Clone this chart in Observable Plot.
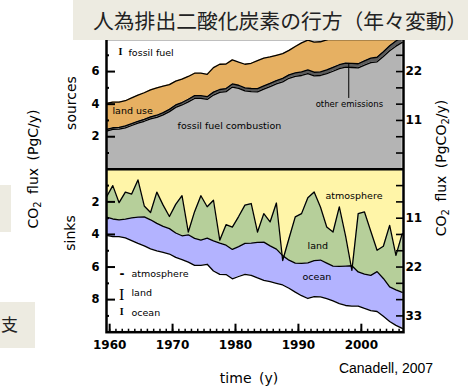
<!DOCTYPE html>
<html>
<head>
<meta charset="utf-8">
<script src="https://cdn.jsdelivr.net/npm/d3@7"></script>
<script src="https://cdn.jsdelivr.net/npm/@observablehq/plot@0.6"></script>
<style>
  body { margin: 0; background: #fff; }
  #wrap { position: relative; width: 468px; height: 387px; overflow: hidden; }
  #wrap svg { position: absolute; left: 0; top: 0; }
  .banner { position: absolute; left: 73px; top: 0; width: 395px; height: 40px; background: #edebe1; }
  .banner .title { position: absolute; left: 20px; top: 8px; font: 20.8px/24px "Noto Sans CJK JP", sans-serif; color: #222; white-space: nowrap; }
  .side { position: absolute; background: #edebe1; }
  .side span { position: absolute; font: 17px/20px "Noto Sans CJK JP", sans-serif; color: #222; }
</style>
</head>
<body>
<div id="wrap">
  <div class="side" style="left:0;top:185px;width:11px;height:47px"></div>
  <div class="side" style="left:0;top:302px;width:35px;height:46px"><span style="left:1px;top:12px">支</span></div>
</div>
<script>
// Annual global CO2 budget, PgC per year (sources above, sinks below)
const years = [1959,1960,1961,1962,1963,1964,1965,1966,1967,1968,1969,1970,1971,1972,1973,1974,1975,1976,1977,1978,1979,1980,1981,1982,1983,1984,1985,1986,1987,1988,1989,1990,1991,1992,1993,1994,1995,1996,1997,1998,1999,2000,2001,2002,2003,2004,2005,2006];

// sources
const fossilCombustion = [2.35,2.45,2.47,2.55,2.69,2.83,2.95,3.09,3.19,3.34,3.54,3.80,3.95,4.14,4.35,4.35,4.29,4.56,4.72,4.77,5.05,4.97,4.81,4.77,4.76,4.92,5.08,5.25,5.37,5.59,5.71,5.76,5.88,5.74,5.76,5.87,6.02,6.18,6.27,6.25,6.23,6.40,6.55,6.60,6.93,7.28,7.56,7.79];
const otherEmissions = [0.10,0.10,0.10,0.11,0.11,0.12,0.12,0.13,0.13,0.14,0.14,0.15,0.15,0.16,0.17,0.17,0.17,0.18,0.18,0.19,0.19,0.19,0.19,0.19,0.19,0.20,0.20,0.20,0.21,0.21,0.21,0.22,0.22,0.22,0.22,0.23,0.24,0.24,0.25,0.25,0.25,0.26,0.27,0.28,0.29,0.30,0.32,0.33];
const landUse = [1.60,1.58,1.56,1.55,1.58,1.60,1.63,1.66,1.68,1.62,1.52,1.46,1.44,1.40,1.38,1.38,1.37,1.50,1.55,1.50,1.48,1.42,1.45,1.55,1.72,1.70,1.62,1.55,1.52,1.50,1.62,1.78,1.83,1.85,1.85,1.84,1.82,1.82,1.84,1.90,1.92,1.88,1.85,1.85,1.80,1.76,1.70,1.65];

// sinks (the land sink is what remains after atmosphere and ocean)
const atmosphere = [1.70,1.00,2.05,1.40,1.52,0.65,2.25,2.65,1.40,2.20,2.90,2.15,1.62,3.85,2.60,1.62,2.30,1.90,4.35,3.40,3.55,2.90,2.20,2.10,3.85,2.72,3.23,2.07,5.60,4.25,2.92,2.72,1.74,1.39,2.31,3.54,3.85,2.31,4.10,6.20,2.72,2.62,3.80,4.97,4.72,3.44,5.28,3.95];
const ocean = [1.12,1.08,1.02,1.15,1.40,1.62,1.78,1.78,1.68,1.60,1.56,1.50,1.46,1.68,1.66,1.55,1.60,1.85,1.92,1.80,1.80,1.83,1.90,1.98,2.18,2.35,2.20,2.10,1.80,1.72,1.78,1.98,2.18,2.20,2.26,2.18,2.14,2.28,2.42,2.48,2.10,2.10,2.16,2.45,2.32,2.12,2.18,2.22];

// axis ticks
const decadeTicks = [1960,1970,1980,1990,2000];
const leftMajor = [-8,-6,-4,-2,2,4,6];
const leftMinor = [-9,-7,-5,-3,-1,1,3,5,7];
const rightTicks = [-9,-8,-7,-6,-5,-4,-3,-2,-1,1,2,3,4,5,6,7];
const rightLabels = [-9,-6,-3,3,6];
const PgC_TO_PgCO2 = 11 / 3;

const rows = years.map((year, i) => {
  const emitted = fossilCombustion[i] + otherEmissions[i];
  const total = emitted + landUse[i];
  return {
    year,
    fossil: fossilCombustion[i],
    emitted,
    total,
    atm: -atmosphere[i],
    landEdge: -(total - ocean[i]),
    sinkTotal: -total
  };
});
const mid = d => d.year + 0.5;

const sans = "DejaVu Sans, sans-serif";
const line = {x: mid, stroke: "#000", strokeWidth: 1.3, clip: true};

const chart = Plot.plot({
  width: 468,
  height: 387,
  marginLeft: 106,
  marginRight: 65,
  marginTop: 38.5,
  marginBottom: 55.3,
  x: {domain: [1959.5, 2006.7]},
  y: {domain: [-10, 8], label: null},
  style: {fontFamily: sans, color: "#000", background: "transparent"},
  marks: [
    // sources
    Plot.areaY(rows, {x: mid, y1: 0, y2: "fossil", fill: "#b4b4b4", clip: true}),
    Plot.areaY(rows, {x: mid, y1: "fossil", y2: "emitted", fill: "#5c5c5c", clip: true}),
    Plot.areaY(rows, {x: mid, y1: "emitted", y2: "total", fill: "#e6b062", clip: true}),
    Plot.lineY(rows, {...line, y: "fossil"}),
    Plot.lineY(rows, {...line, y: "emitted"}),
    Plot.lineY(rows, {...line, y: "total"}),
    // sinks
    Plot.areaY(rows, {x: mid, y1: 0, y2: "atm", fill: "#fff5a8"}),
    Plot.areaY(rows, {x: mid, y1: "landEdge", y2: "sinkTotal", fill: "#b3b3ff"}),
    Plot.areaY(rows, {x: mid, y1: "atm", y2: "landEdge", fill: "#b6cf9a"}),
    Plot.lineY(rows, {...line, y: "atm"}),
    Plot.lineY(rows, {...line, y: "landEdge"}),
    Plot.lineY(rows, {...line, y: "sinkTotal"}),
    Plot.ruleY([0], {strokeWidth: 2.5}),
    Plot.frame({strokeWidth: 2.5}),

    // axes: ticks point into the frame
    Plot.axisY(leftMajor, {anchor: "left", tickSize: -9, strokeWidth: 2, fill: "none", label: null}),
    Plot.axisY(leftMinor, {anchor: "left", tickSize: -3, strokeWidth: 2, fill: "none", label: null}),
    Plot.axisY(leftMajor, {anchor: "left", tickSize: 0, tickPadding: 7, tickFormat: d => Math.abs(d), fontSize: 11.5, fontWeight: "bold", label: null}),
    Plot.axisY(rightTicks, {anchor: "right", tickSize: -8, strokeWidth: 1.6, fill: "none", label: null}),
    Plot.axisY(rightLabels, {anchor: "right", tickSize: 0, tickPadding: 2, tickFormat: d => Math.round(Math.abs(d) * PgC_TO_PgCO2), fontSize: 12, fontWeight: "bold", label: null}),
    Plot.axisX(decadeTicks, {anchor: "bottom", tickSize: -8, strokeWidth: 2, fill: "none", label: null}),
    Plot.axisX(years.filter(y => y >= 1960), {anchor: "bottom", tickSize: -3, strokeWidth: 1.5, fill: "none", label: null}),
    Plot.axisX(decadeTicks, {anchor: "bottom", tickSize: 0, tickPadding: 8, tickFormat: d => String(d), fontSize: 12, fontWeight: "bold", label: null}),

    // in-panel labels
    Plot.text(["land use"], {x: 1960.45, y: 3.57, textAnchor: "start", fontSize: 9.5, fontFamily: sans}),
    Plot.text(["fossil fuel combustion"], {x: 1970.8, y: 2.65, textAnchor: "start", fontSize: 9.5, fontFamily: sans}),
    Plot.text(["other emissions"], {x: 1998.1, y: 3.98, fontSize: 8.5, fontFamily: sans}),
    Plot.ruleX([1998], {y1: 4.35, y2: rows.find(d => d.year === 1998).emitted, strokeWidth: 1}),
    Plot.text(["atmosphere"], {x: 1994.3, y: -1.65, textAnchor: "start", fontSize: 9.5, fontFamily: sans}),
    Plot.text(["land"], {x: 1991.45, y: -4.68, textAnchor: "start", fontSize: 9.5, fontFamily: sans}),
    Plot.text(["ocean"], {x: 1990.65, y: -6.62, textAnchor: "start", fontSize: 9.5, fontFamily: sans}),

    // uncertainty key
    Plot.text(["I"], {x: 1961.7, y: 7.2, fontSize: 10, fontFamily: "Liberation Serif, serif", fontWeight: "bold"}),
    Plot.text(["fossil fuel"], {x: 1963.0, y: 7.17, textAnchor: "start", fontSize: 9.5, fontFamily: sans}),
    Plot.text(["-"], {x: 1961.95, y: -6.41, fontSize: 12, fontFamily: sans, fontWeight: "bold"}),
    Plot.text(["atmosphere"], {x: 1963.47, y: -6.41, textAnchor: "start", fontSize: 9.5, fontFamily: sans}),
    Plot.text(["I"], {x: 1961.9, y: -7.69, fontSize: 16, fontFamily: "Liberation Serif, serif"}),
    Plot.text(["land"], {x: 1963.47, y: -7.62, textAnchor: "start", fontSize: 9.5, fontFamily: sans}),
    Plot.text(["I"], {x: 1961.9, y: -8.76, fontSize: 10, fontFamily: "Liberation Serif, serif", fontWeight: "bold"}),
    Plot.text(["ocean"], {x: 1963.47, y: -8.79, textAnchor: "start", fontSize: 9.5, fontFamily: sans})
  ]
});

// axis titles and source note around the frame
const svg = d3.select(chart);
const title = (x, y, rotate, size, family) => svg.append("text")
  .attr("transform", `translate(${x},${y}) rotate(${rotate})`)
  .attr("text-anchor", "middle")
  .attr("dominant-baseline", "central")
  .attr("font-family", family || sans)
  .attr("font-size", size)
  .attr("word-spacing", 3)
  .attr("fill", "#000");
const co2Left = title(33, 169, -90, 14);
co2Left.append("tspan").text("CO");
co2Left.append("tspan").attr("font-size", 10).attr("dy", 4).text("2");
co2Left.append("tspan").attr("dy", -4).text(" flux (PgC/y)");
const co2Right = title(441, 168, -90, 14);
co2Right.append("tspan").text("CO");
co2Right.append("tspan").attr("font-size", 10).attr("dy", 4).text("2");
co2Right.append("tspan").attr("dy", -4).text(" flux (PgCO");
co2Right.append("tspan").attr("font-size", 10).attr("dy", 4).text("2");
co2Right.append("tspan").attr("dy", -4).text("/y)");
title(71, 103, -90, 14).text("sources");
title(70, 233, -90, 14).text("sinks");
title(249, 378, 0, 14).text("time (y)");
title(386, 368, 0, 14, "Liberation Sans, Arial, sans-serif").attr("word-spacing", 0).text("Canadell, 2007");

const wrap = document.getElementById("wrap");
wrap.insertBefore(chart, wrap.firstChild);
const banner = document.createElement("div");
banner.className = "banner";
banner.innerHTML = '<div class="title">人為排出二酸化炭素の行方（年々変動）</div>';
wrap.appendChild(banner);
</script>
</body>
</html>
